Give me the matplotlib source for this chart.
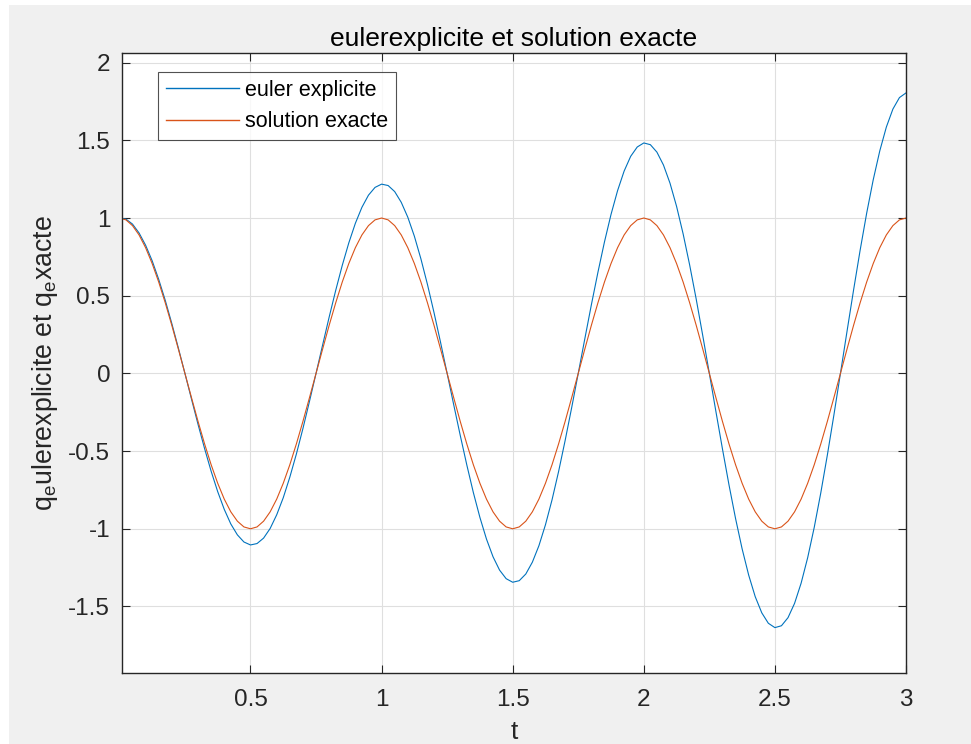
"""Euler explicite vs solution exacte (MATLAB-style figure)."""

import matplotlib
matplotlib.use("Agg")
import matplotlib.pyplot as plt
import numpy as np

plt.rcParams["font.family"] = ["Liberation Sans", "DejaVu Sans"]
plt.rcParams["mathtext.fontset"] = "custom"
plt.rcParams["mathtext.rm"] = "Liberation Sans"
plt.rcParams["mathtext.it"] = "Liberation Sans"

# sampling grid (t from 0 to 3, step 0.025)
T_START, T_STOP, N_SAMPLES = 0.0, 3.0, 121

q_euler = [
    1.000, 0.993, 0.961, 0.904, 0.825, 0.725, 0.605, 0.470, 0.321, 0.163,
    0.000, -0.165, -0.328, -0.484, -0.630, -0.761, -0.875, -0.969, -1.039, -1.085,
    -1.104, -1.095, -1.060, -0.998, -0.910, -0.800, -0.668, -0.519, -0.355, -0.180,
    0.000, 0.182, 0.362, 0.534, 0.695, 0.840, 0.966, 1.069, 1.147, 1.197,
    1.218, 1.209, 1.170, 1.101, 1.005, 0.883, 0.737, 0.572, 0.391, 0.199,
    0.000, -0.201, -0.399, -0.589, -0.767, -0.927, -1.066, -1.180, -1.266, -1.321,
    -1.344, -1.334, -1.291, -1.215, -1.109, -0.974, -0.814, -0.632, -0.432, -0.220,
    0.000, 0.222, 0.441, 0.650, 0.846, 1.023, 1.176, 1.302, 1.397, 1.457,
    1.483, 1.472, 1.424, 1.341, 1.224, 1.075, 0.898, 0.697, 0.477, 0.242,
    0.000, -0.245, -0.486, -0.718, -0.934, -1.129, -1.298, -1.437, -1.541, -1.608,
    -1.636, -1.624, -1.572, -1.480, -1.350, -1.186, -0.991, -0.769, -0.526, -0.268,
    0.000, 0.270, 0.536, 0.792, 1.031, 1.246, 1.432, 1.585, 1.701, 1.775,
    1.805,
]

q_exacte = [
    1.000, 0.988, 0.951, 0.891, 0.809, 0.707, 0.588, 0.454, 0.309, 0.156,
    0.000, -0.156, -0.309, -0.454, -0.588, -0.707, -0.809, -0.891, -0.951, -0.988,
    -1.000, -0.988, -0.951, -0.891, -0.809, -0.707, -0.588, -0.454, -0.309, -0.156,
    0.000, 0.156, 0.309, 0.454, 0.588, 0.707, 0.809, 0.891, 0.951, 0.988,
    1.000, 0.988, 0.951, 0.891, 0.809, 0.707, 0.588, 0.454, 0.309, 0.156,
    0.000, -0.156, -0.309, -0.454, -0.588, -0.707, -0.809, -0.891, -0.951, -0.988,
    -1.000, -0.988, -0.951, -0.891, -0.809, -0.707, -0.588, -0.454, -0.309, -0.156,
    0.000, 0.156, 0.309, 0.454, 0.588, 0.707, 0.809, 0.891, 0.951, 0.988,
    1.000, 0.988, 0.951, 0.891, 0.809, 0.707, 0.588, 0.454, 0.309, 0.156,
    0.000, -0.156, -0.309, -0.454, -0.588, -0.707, -0.809, -0.891, -0.951, -0.988,
    -1.000, -0.988, -0.951, -0.891, -0.809, -0.707, -0.588, -0.454, -0.309, -0.156,
    0.000, 0.156, 0.309, 0.454, 0.588, 0.707, 0.809, 0.891, 0.951, 0.988,
    1.000,
]

x_ticks = [0.5, 1, 1.5, 2, 2.5, 3]
x_tick_labels = ["0.5", "1", "1.5", "2", "2.5", "3"]
y_ticks = [-1.5, -1, -0.5, 0, 0.5, 1, 1.5, 2]
y_tick_labels = ["-1.5", "-1", "-0.5", "0", "0.5", "1", "1.5", "2"]

series_labels = ["euler explicite", "solution exacte"]

t = np.linspace(T_START, T_STOP, N_SAMPLES)

W, H = 971, 744
fig = plt.figure(figsize=(W / 100, H / 100), dpi=100, facecolor="#f0f0f0")

# screenshot border strips (white at top and left)
fig.patches.append(plt.Rectangle((0, 1 - 5 / H), 1, 5 / H, transform=fig.transFigure,
                                 facecolor="white", edgecolor="none", zorder=-10))
fig.patches.append(plt.Rectangle((0, 0), 9 / W, 1, transform=fig.transFigure,
                                 facecolor="white", edgecolor="none", zorder=-10))

left, right, top, bottom = 122, 906, 53.3, 673.3
ax = fig.add_axes([left / W, 1 - bottom / H, (right - left) / W, (bottom - top) / H])
ax.set_facecolor("white")

ax.plot(t, q_euler, color="#0072BD", lw=0.8, label=series_labels[0])
ax.plot(t, q_exacte, color="#D95319", lw=0.8, label=series_labels[1])

ax.set_xlim(0.01, 3)
ax.set_ylim(-1.93, 2.06)
ax.set_xticks(x_ticks)
ax.set_xticklabels(x_tick_labels)
ax.set_yticks(y_ticks)
ax.set_yticklabels(y_tick_labels)

dark = "#262626"
ax.tick_params(direction="in", length=6, width=0.8, colors=dark, labelsize=17.5,
               top=True, right=True, labeltop=False, labelright=False)
ax.tick_params(axis="x", pad=11)
ax.tick_params(axis="y", pad=8.5)
for s in ax.spines.values():
    s.set_color(dark)
    s.set_linewidth(1.0)

ax.grid(True, color="#dfdfdf", lw=0.8)
ax.set_axisbelow(True)

ax.set_title("eulerexplicite et solution exacte", fontsize=19, color="black", pad=5)
ax.set_xlabel("t", fontsize=19, color=dark, labelpad=7)
ax.set_ylabel(r"q$_\mathrm{e}$ulerexplicite et q$_\mathrm{e}$xacte", fontsize=19.3,
              color=dark, labelpad=6)

leg = ax.legend(loc="upper left",
                bbox_to_anchor=((158 - left) / (right - left), 1 - (72 - top) / (bottom - top)),
                fontsize=15.5, frameon=True, fancybox=False, handlelength=3.4,
                handletextpad=0.28, borderpad=0.37, labelspacing=0.47, borderaxespad=0)
leg.get_frame().set_edgecolor(dark)
leg.get_frame().set_linewidth(0.8)
for line in leg.get_lines():
    line.set_linewidth(1.0)

fig.savefig("out.png", dpi=100, facecolor=fig.get_facecolor())
